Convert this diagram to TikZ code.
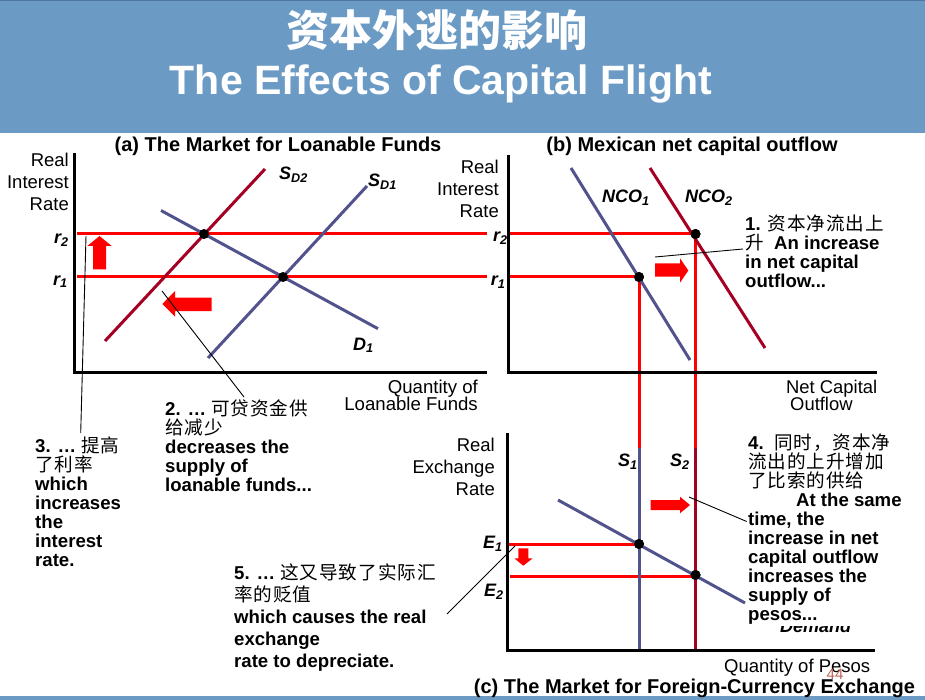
\documentclass[tikz,border=0pt]{standalone}
\usepackage{fontspec}
\setmainfont{Liberation Sans}
\newfontfamily\cjkfont[LetterSpace=5]{Noto Sans CJK SC}
\newfontfamily\cjktitle{Noto Sans CJK SC}
\newcommand\zh[1]{{\cjkfont\mdseries #1}}
\definecolor{hdr}{RGB}{107,154,196}
\definecolor{hdrline}{RGB}{78,118,160}
\definecolor{curveblue}{RGB}{82,82,140}
\definecolor{curvered}{RGB}{165,0,35}
\definecolor{pagenum}{RGB}{190,100,90}
\tikzset{
  axisline/.style={line width=3pt},
  level/.style={draw=red,line width=3pt},
  bluecurve/.style={draw=curveblue,line width=3pt},
  redcurve/.style={draw=curvered,line width=3pt},
  leader/.style={draw=black,line width=0.9pt},
  dot/.style={circle,fill=black,inner sep=0pt,minimum size=10pt},
  shiftarrow/.style={fill=red,draw=none},
  axlabel/.style={font=\fontsize{18.5}{21.7}\selectfont,inner sep=0pt},
  paneltitle/.style={font=\fontsize{20}{20}\selectfont\bfseries,inner sep=0pt,anchor=base},
  curvelabel/.style={font=\fontsize{18}{18}\selectfont\bfseries\itshape,inner sep=0pt,anchor=base west},
  annot/.style={font=\fontsize{18.6}{19}\selectfont\bfseries,align=left,inner sep=0pt,anchor=north west}
}
\begin{document}
\lineskiplimit=-100pt
\begin{tikzpicture}[x=1pt,y=-1pt]
\useasboundingbox (0,0) rectangle (925,700);

% title band
\fill[hdr] (0,0) rectangle (925,133);
\fill[hdrline] (0,0) rectangle (925,1.5);
\fill[hdr] (0,695.5) rectangle (925,700);
\node[font=\cjktitle\bfseries\fontsize{43}{43}\selectfont,text=white,inner sep=0pt,anchor=base] (titlezh) at (437,47) {资本外逃的影响};
\node[font=\bfseries\fontsize{41}{41}\selectfont,text=white,inner sep=0pt,anchor=base] (titleen) at (441,95) {The Effects of Capital Flight};

% ---------------- (a) loanable funds ----------------
\node[paneltitle] (titleA) at (278,152) {(a) The Market for Loanable Funds};
\coordinate (aTop) at (74,153);
\coordinate (aOrig) at (74,372);
\coordinate (aRight) at (487,372);
\coordinate (aR2l) at (77,234);  \coordinate (aR2r) at (487,234);
\coordinate (aR1l) at (77,277);  \coordinate (aR1r) at (487,277);
\draw[level] (aR2l) -- (aR2r);
\draw[level] (aR1l) -- (aR1r);
\draw[axisline] (aTop) -- (aOrig) -- (aRight);
\node[axlabel,align=right,anchor=north east] (ylabA) at (69,153) {Real\\Interest\\Rate};
\node[axlabel,align=right,anchor=north east,font=\fontsize{18.6}{16.7}\selectfont] (xlabA) at (478,380) {Quantity of\\Loanable Funds};
\node[curvelabel] (r2A) at (54,243.5) {r\textsubscript{2}};
\node[curvelabel] (r1A) at (53,285) {r\textsubscript{1}};

\coordinate (sd2a) at (105,341);  \coordinate (sd2b) at (265,169);
\coordinate (sd1a) at (208,358);  \coordinate (sd1b) at (367,186);
\coordinate (d1a) at (161,210.5); \coordinate (d1b) at (378,328.7);
\draw[redcurve] (sd2a) -- (sd2b);
\draw[bluecurve] (sd1a) -- (sd1b);
\draw[bluecurve] (d1a) -- (d1b);
\node[dot] (eqA2) at (204,234) {};
\node[dot] (eqA1) at (283,277) {};
\node[curvelabel] (lbSD2) at (279,180) {S\textsubscript{D2}};
\node[curvelabel] (lbSD1) at (368,187) {S\textsubscript{D1}};
\node[curvelabel] (lbD1) at (353,350) {D\textsubscript{1}};

% rate rises / supply falls
\fill[shiftarrow] (99.5,236) -- (111.7,246) -- (106,246) -- (106,269.3) -- (93,269.3) -- (93,246) -- (87.3,246) -- cycle;
\fill[shiftarrow] (162.3,304) -- (175,291) -- (175,297.7) -- (211.7,297.7) -- (211.7,311) -- (175,311) -- (175,316.7) -- cycle;

% ---------------- (b) net capital outflow ----------------
\node[paneltitle] (titleB) at (692,152) {(b) Mexican net capital outflow};
\coordinate (bTop) at (508,155);
\coordinate (bOrig) at (508,372);
\coordinate (bRight) at (877,372);
\node[dot] (eqB1) at (639,277) {};
\node[dot] (eqB2) at (695.5,234) {};
\coordinate (bR2l) at (508,234);
\coordinate (bR1l) at (508,277);
\coordinate (c1Top) at (639,448);
\coordinate (c2Top) at (695.5,448);
\draw[level] (bR2l) -- (eqB2.center) -- (c2Top);
\draw[level] (bR1l) -- (eqB1.center) -- (c1Top);
\draw[axisline] (bTop) -- (bOrig) -- (bRight);
\node[axlabel,align=right,anchor=north east] (ylabB) at (499,160) {Real\\Interest\\Rate};
\node[axlabel,align=left,anchor=north west,font=\fontsize{18.4}{16.7}\selectfont] (xlabB) at (786,380) {Net Capital\\\hspace*{4pt}Outflow};
\node[curvelabel] (r2B) at (493,241.7) {r\textsubscript{2}};
\node[curvelabel] (r1B) at (490.7,286) {r\textsubscript{1}};

\coordinate (nco1a) at (571,168); \coordinate (nco1b) at (690,360);
\coordinate (nco2a) at (650,168); \coordinate (nco2b) at (765,348);
\draw[bluecurve] (nco1a) -- (nco1b);
\draw[redcurve] (nco2a) -- (nco2b);
\node[dot] at (eqB1) {};
\node[dot] at (eqB2) {};
\node[curvelabel] (lbNCO1) at (602,203) {NCO\textsubscript{1}};
\node[curvelabel] (lbNCO2) at (685,203) {NCO\textsubscript{2}};
\fill[shiftarrow] (655,263.3) -- (680,263.3) -- (680,258.3) -- (688.3,270.5) -- (680,282.7) -- (680,276.7) -- (655,276.7) -- cycle;

% ---------------- (c) foreign-currency exchange ----------------
\coordinate (cTop) at (507,433);
\coordinate (cOrig) at (507,650);
\coordinate (cRight) at (875,650);
\coordinate (s1Bot) at (639,650);
\coordinate (s2Bot) at (695.5,650);
\node[dot] (eqC1) at (639,544) {};
\node[dot] (eqC2) at (695.5,575) {};
\coordinate (e1l) at (509,544);
\coordinate (e2l) at (510,576);
\draw[level] (e1l) -- (eqC1.center);
\draw[level] (e2l) -- (695.5,576);
\draw[bluecurve] (c1Top) -- (s1Bot);
\draw[redcurve] (c2Top) -- (s2Bot);
\coordinate (dema) at (558,500); \coordinate (demb) at (745,603);
\draw[bluecurve] (dema) -- (demb);
\node[dot] at (eqC1) {};
\node[dot] at (eqC2) {};
\draw[axisline] (cTop) -- (cOrig) -- (cRight);
\node[axlabel,align=right,anchor=north east] (ylabC) at (495,438.3) {Real\\Exchange\\Rate};
\node[axlabel,anchor=base west] (xlabC) at (724,672.5) {Quantity of Pesos};
\node[font=\fontsize{15}{15}\selectfont,text=pagenum,inner sep=0pt,anchor=base west] (pageno) at (826.5,679) {44};
\node[paneltitle] (titleC) at (694.5,693) {(c) The Market for Foreign-Currency Exchange};
\node[curvelabel] (lbS1) at (618,466.7) {S\textsubscript{1}};
\node[curvelabel] (lbS2) at (670,466.7) {S\textsubscript{2}};
\node[curvelabel] (lbE1) at (483,548.3) {E\textsubscript{1}};
\node[curvelabel] (lbE2) at (484,596.7) {E\textsubscript{2}};
\node[curvelabel] (lbDem) at (780,632) {Demand};
\fill[shiftarrow] (650.7,500) -- (680,500) -- (680,496.7) -- (690,505) -- (680,513.3) -- (680,510) -- (650.7,510) -- cycle;
\fill[shiftarrow] (518.3,548.3) -- (528.3,548.3) -- (528.3,558.3) -- (532.7,558.3) -- (523.3,565.7) -- (514.3,558.3) -- (518.3,558.3) -- cycle;

% ---------------- annotations ----------------
\node[annot] (note1) at (745,215) {1. \zh{资本净流出上}\\\zh{升}\ \ An increase\\in net capital\\outflow...};
\node[annot] (note2) at (165,400) {2. … \zh{可贷资金供}\\\zh{给减少}\\decreases the\\supply of\\loanable funds...};
\node[annot] (note3) at (35,437) {3. … \zh{提高}\\\zh{了利率}\\which\\increases\\the\\interest\\rate.};
\node[annot,fill=white,inner sep=1pt] (note4) at (747,433) {4.\ \ \zh{同时，资本净}\\\zh{流出的上升增加}\\\zh{了比索的供给}\\\hspace*{48pt}At the same\\time, the\\increase in net\\capital outflow\\increases the\\supply of\\pesos...};
\node[annot,font=\fontsize{18.6}{22}\selectfont\bfseries] (note5) at (234,564) {5. … \zh{这又导致了实际汇}\\\zh{率的贬值}\\which causes the real\\exchange\\rate to depreciate.};

% leader lines
\coordinate (ld1a) at (655,257);   \coordinate (ld1b) at (743,249);
\coordinate (ld2a) at (162,291);   \coordinate (ld2b) at (244,397);
\coordinate (ld3a) at (86,236);    \coordinate (ld3b) at (80.7,433);
\coordinate (ld4a) at (689,497);   \coordinate (ld4b) at (746.7,521.5);
\coordinate (ld5a) at (515,546);   \coordinate (ld5b) at (447,614);
\draw[leader] (ld1a) -- (ld1b);
\draw[leader] (ld2a) -- (ld2b);
\draw[leader] (ld3a) -- (ld3b);
\draw[leader] (ld4a) -- (ld4b);
\draw[leader] (ld5a) -- (ld5b);
\end{tikzpicture}
\end{document}
